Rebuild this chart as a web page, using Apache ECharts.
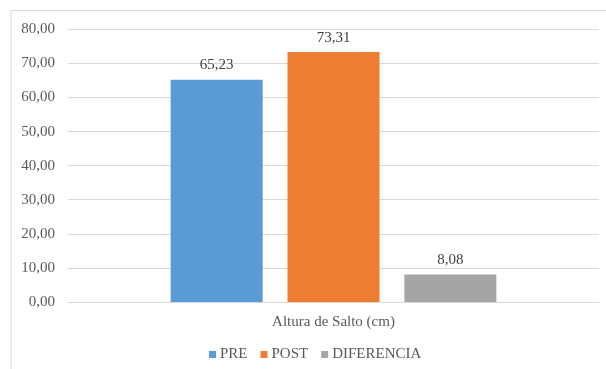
<!DOCTYPE html>
<html>
<head>
<meta charset="utf-8">
<script src="https://cdn.jsdelivr.net/npm/echarts@6/dist/echarts.min.js"></script>
<style>html,body{margin:0;padding:0;background:#fff}#c{width:606px;height:369px}</style>
</head>
<body>
<div id="c"></div>
<script>
const categories = ['Altura de Salto (cm)'];
const seriesNames = ['PRE', 'POST', 'DIFERENCIA'];
const preValues = [65.23];
const postValues = [73.31];
const difValues = [8.08];
const colors = ['#5B9BD5', '#ED7D31', '#A5A5A5'];

const font = 'Liberation Serif';
const fs = 15;
const fmt = v => v.toFixed(2).replace('.', ',');

const chart = echarts.init(document.getElementById('c'), null, {renderer: 'canvas'});
const dataSets = [preValues, postValues, difValues];
chart.setOption({
  animation: false,
  textStyle: {fontFamily: font, fontSize: fs},
  graphic: [{
    type: 'rect', shape: {x: 11, y: 10.5, width: 700, height: 500},
    style: {fill: 'none', stroke: '#d9d9d9', lineWidth: 1}, silent: true, z: -1
  }],
  grid: {left: 68, right: 7, top: 29.3, bottom: 67},
  legend: {
    left: 204, top: 342, itemWidth: 7, itemHeight: 7, itemGap: 13,
    icon: 'rect',
    textStyle: {fontFamily: font, fontSize: fs, color: '#595959', padding: [0, 0, 0, -1]},
    data: seriesNames
  },
  xAxis: {
    type: 'category', data: categories,
    axisLine: {lineStyle: {color: '#d9d9d9'}},
    axisTick: {show: false},
    axisLabel: {fontFamily: font, fontSize: fs, color: '#595959', margin: 13}
  },
  yAxis: {
    type: 'value', min: 0, max: 80, interval: 10,
    axisLine: {show: false}, axisTick: {show: false},
    splitLine: {lineStyle: {color: '#d9d9d9'}},
    axisLabel: {fontFamily: font, fontSize: fs, color: '#595959', margin: 13, formatter: v => fmt(v)}
  },
  series: seriesNames.map((n, i) => ({
    name: n, type: 'bar', data: dataSets[i],
    barWidth: 92, barGap: '27%',
    itemStyle: {color: colors[i]},
    label: {show: true, position: 'top', distance: 7, fontFamily: font, fontSize: fs, color: '#404040', formatter: p => fmt(p.value)}
  }))
});
</script>
</body>
</html>
